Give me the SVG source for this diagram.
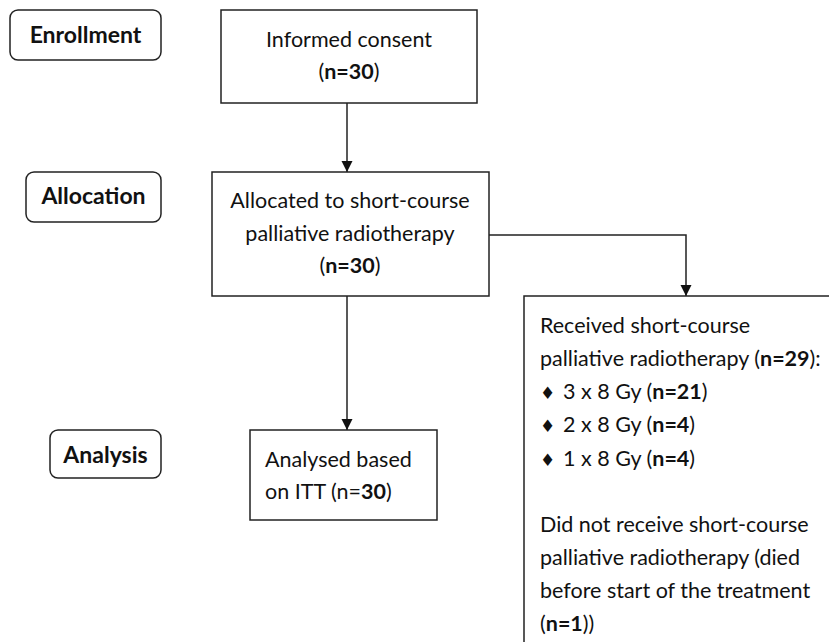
<svg xmlns="http://www.w3.org/2000/svg" width="829" height="642" viewBox="0 0 829 642">
<defs>
<style>
text{font-family:Lato,"Liberation Sans",sans-serif;font-size:21.5px;fill:#111}
.b{font-weight:bold}
.lab{font-weight:bold;text-anchor:middle;font-size:23px}
.c{text-anchor:middle}
.d{font-family:"DejaVu Sans",sans-serif;font-size:17px}
.box{fill:#fff;stroke:#222;stroke-width:1.5}
.con{fill:none;stroke:#222;stroke-width:1.5}
</style>
<marker id="arr" markerWidth="12" markerHeight="12" refX="11" refY="6" orient="auto" markerUnits="userSpaceOnUse" viewBox="0 0 12 12">
<path d="M0,0.5 L11,6 L0,11.5 Z" fill="#111"/>
</marker>
</defs>
<rect width="829" height="642" fill="#fff"/>
<g id="connectors">
<line class="con" x1="347" y1="103" x2="347" y2="172" marker-end="url(#arr)"/>
<line class="con" x1="347" y1="296" x2="347" y2="430" marker-end="url(#arr)"/>
<polyline class="con" points="489,235 686,235 686,296" marker-end="url(#arr)"/>
</g>
<g id="enrollment">
<rect class="box" x="10" y="10" width="151" height="50" rx="8"/>
<text class="lab" x="85.5" y="43">Enrollment</text>
</g>
<g id="allocation">
<rect class="box" x="26" y="172" width="135" height="50" rx="8"/>
<text class="lab" x="93.5" y="204">Allocation</text>
</g>
<g id="analysis">
<rect class="box" x="50" y="430" width="111" height="48" rx="8"/>
<text class="lab" x="105.5" y="463">Analysis</text>
</g>
<g id="consent">
<rect class="box" x="221" y="10" width="256" height="93"/>
<text class="c" x="349" y="47">Informed consent</text>
<text class="c" x="349" y="79">(<tspan class="b">n=30</tspan>)</text>
</g>
<g id="allocated">
<rect class="box" x="212" y="172" width="277" height="124"/>
<text class="c" x="350" y="208">Allocated to short-course</text>
<text class="c" x="350" y="241">palliative radiotherapy</text>
<text class="c" x="350" y="273">(<tspan class="b">n=30</tspan>)</text>
</g>
<g id="analysed">
<rect class="box" x="250" y="430" width="187" height="90"/>
<text x="265" y="467">Analysed based</text>
<text x="265" y="499">on ITT (n=<tspan class="b">30</tspan>)</text>
</g>
<g id="received">
<rect class="box" x="524" y="296" width="320" height="360"/>
<text x="540" y="333">Received short-course</text>
<text x="540" y="366">palliative radiotherapy (<tspan class="b">n=29</tspan>):</text>
<text x="540" y="399"><tspan class="d">♦</tspan><tspan x="563">3 x 8 Gy (</tspan><tspan class="b">n=21</tspan>)</text>
<text x="540" y="432"><tspan class="d">♦</tspan><tspan x="563">2 x 8 Gy (</tspan><tspan class="b">n=4</tspan>)</text>
<text x="540" y="466"><tspan class="d">♦</tspan><tspan x="563">1 x 8 Gy (</tspan><tspan class="b">n=4</tspan>)</text>
<text x="540" y="532">Did not receive short-course</text>
<text x="540" y="565">palliative radiotherapy (died</text>
<text x="540" y="598">before start of the treatment</text>
<text x="540" y="631">(<tspan class="b">n=1</tspan>))</text>
</g>
</svg>
